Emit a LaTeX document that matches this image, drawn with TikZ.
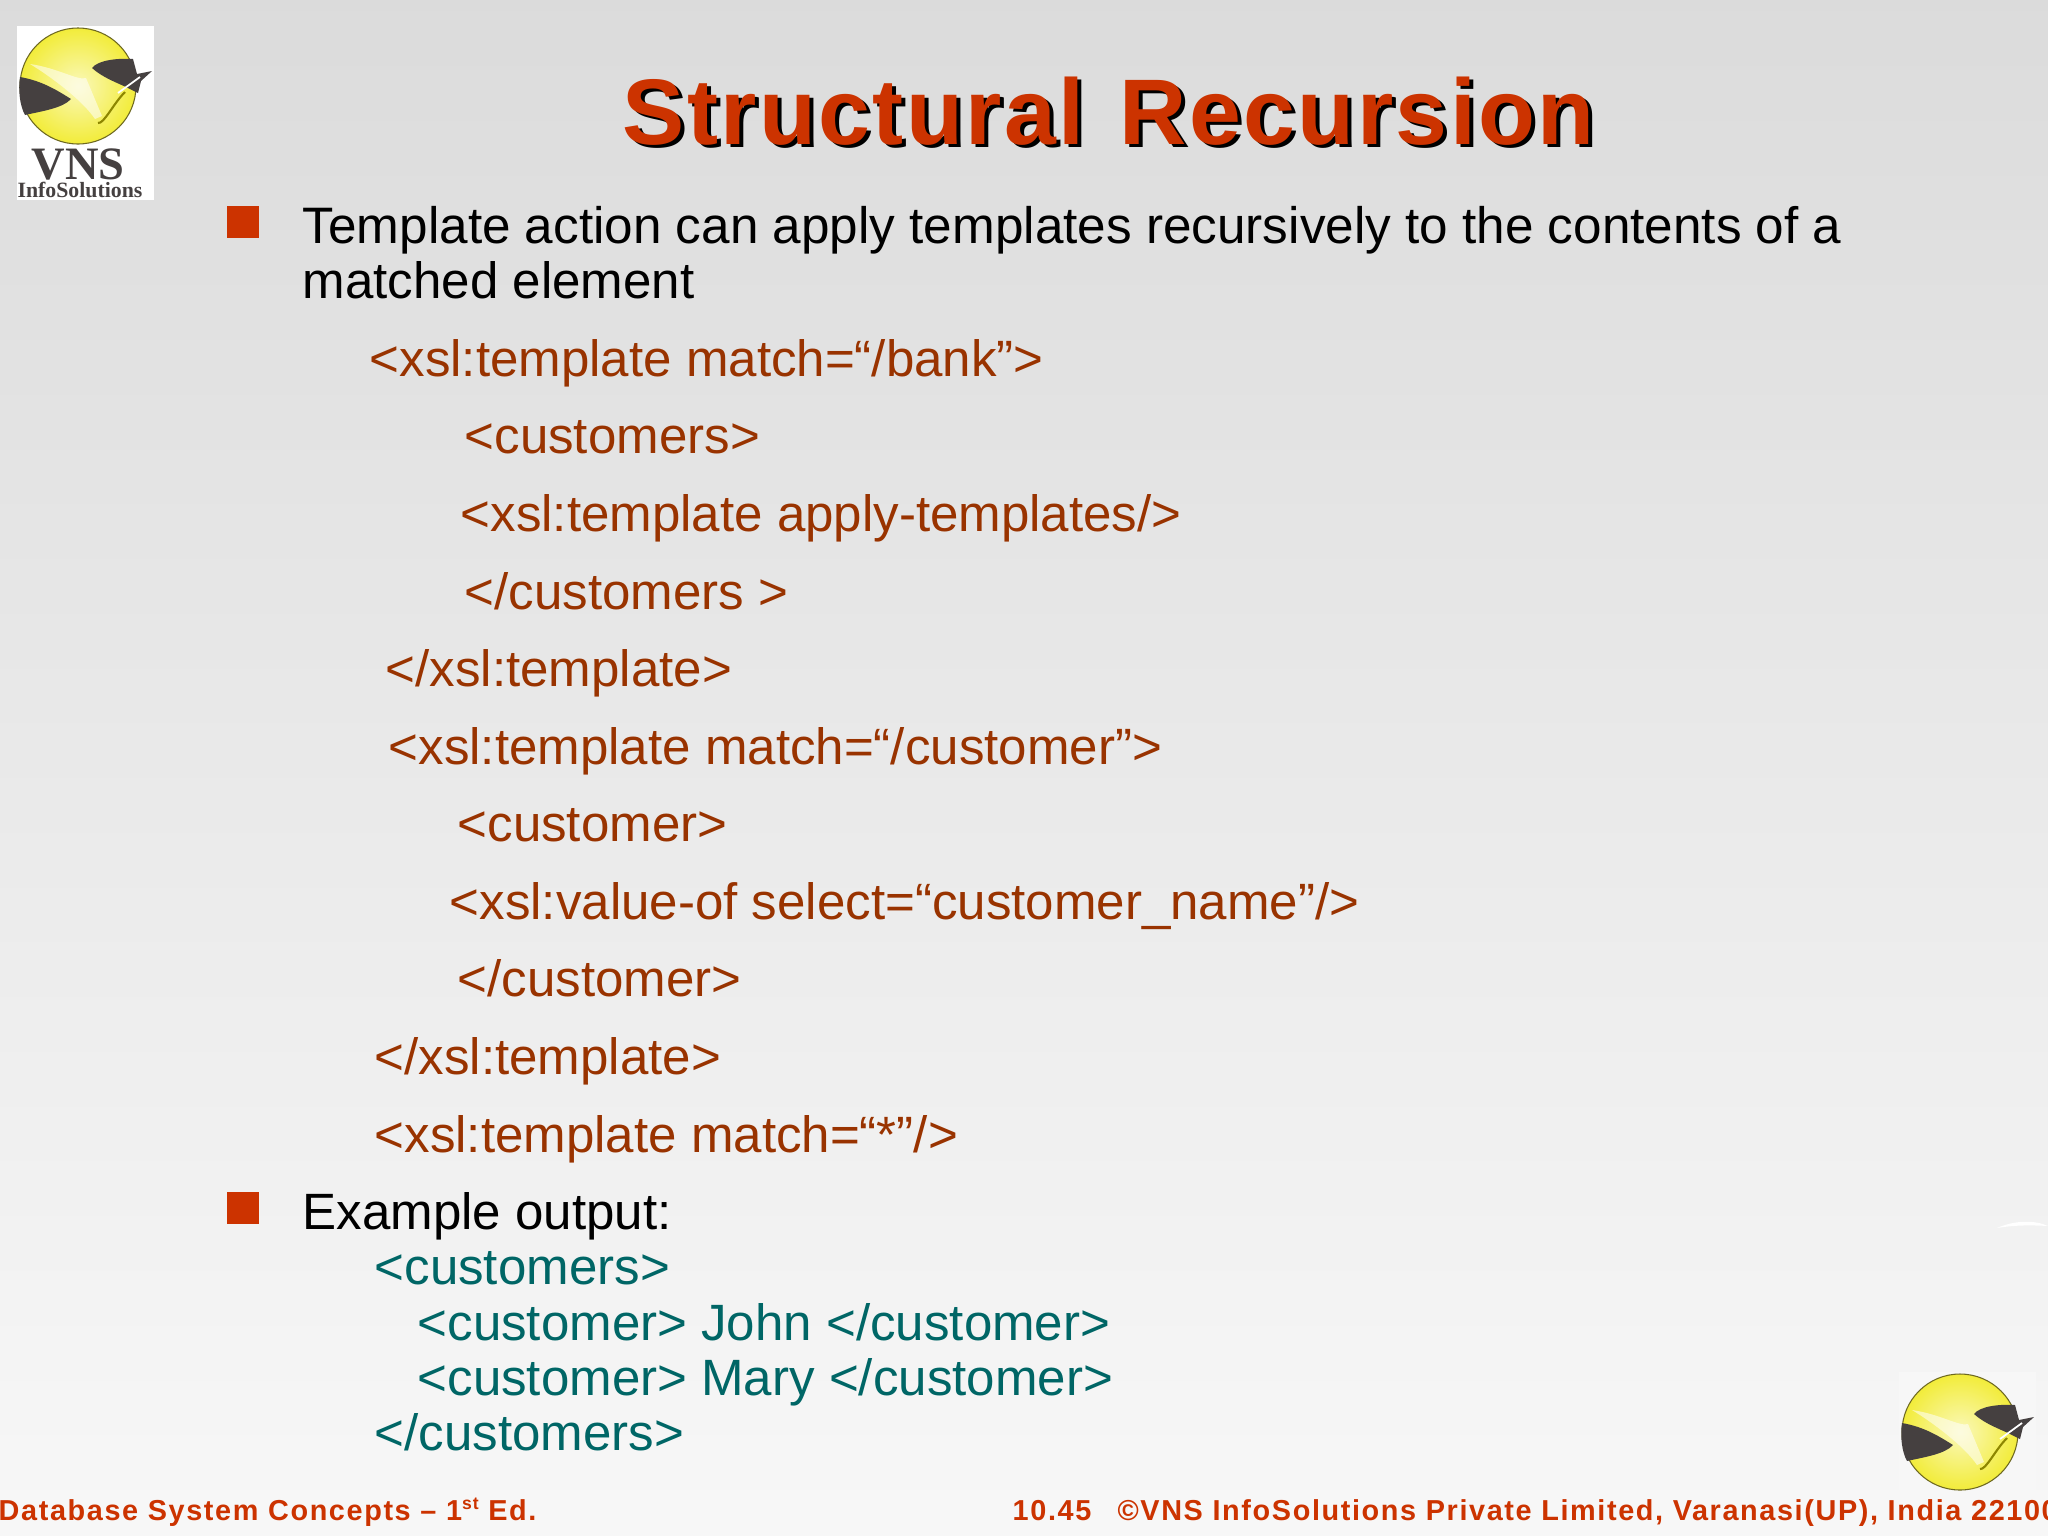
\documentclass[tikz,border=0pt]{standalone}
\usepackage{fontspec}
\setmainfont{Liberation Sans}
\newfontfamily\titlefont[LetterSpace=2.6]{Liberation Sans Bold}
\newfontfamily\footfont[LetterSpace=5.6]{Liberation Sans Bold}
\newfontfamily\logofont{Liberation Serif Bold}
\definecolor{redbrown}{HTML}{CC3300}
\definecolor{codebrown}{HTML}{993300}
\definecolor{outteal}{HTML}{006666}
\definecolor{logodark}{HTML}{454040}
\definecolor{logoyellow}{HTML}{F2EC3A}
\begin{document}
\begin{tikzpicture}
[x=.01cm,y=-.01cm,
 txt/.style={anchor=base west,inner sep=0pt,font=\fontsize{14.52}{17}\selectfont},
 main/.style={txt,text=black},code/.style={txt,text=codebrown},res/.style={txt,text=outteal},
 bul/.style={fill=redbrown,inner sep=0pt,minimum size=.32cm},
 foot/.style={anchor=base west,inner sep=0pt,text=redbrown,font=\fontsize{8.2}{10}\footfont},
 head/.style={anchor=base west,inner sep=0pt,font=\fontsize{26.5}{30}\titlefont},
 ball/.pic={\shade[inner color=logoyellow!35,outer color=logoyellow,draw=olive!70!black,line width=.3pt](0,0) circle (58);
  \fill[white,opacity=.55](-48,-22)..controls (-20,-18) and (0,-5) .. (8,-8)--(24,30)--(17,33)..controls (5,15) and (-25,-8) .. (-48,-22);
  \fill[logodark](-58,-9)..controls (-35,-5) and (-20,5) .. (-7,13)..controls (-15,22) and (-35,25) .. (-53,29)..controls (-58,20) and (-60,5) .. (-58,-9);
  \fill[logodark](14,-18)..controls (20,-26) and (40,-28) .. (55,-27)--(59,-12)--(74,-15)--(63,-5)--(60,7)--(50,2)..controls (40,-3) and (25,-8) .. (14,-18);
  \draw[white,line width=.5pt](40,7)--(62,-9);\draw[olive,line width=.6pt](20,37)..controls (26,38) and (35,18) .. (47,6);}]
\useasboundingbox(0,0) rectangle (2048,1536);
\shade[top color=black!14,bottom color=black!3](0,0) rectangle (2048,1536);
% logos
\fill[white](17,26) rectangle (154,200);\pic at (78,86){ball};
\node(vns) at (78,179)[anchor=base,inner sep=0pt,text=logodark,font=\fontsize{13.2}{14}\logofont]{VNS};
\node(info) at (80,197)[anchor=base,inner sep=0pt,text=logodark,font=\fontsize{6.2}{7}\logofont]{InfoSolutions};
\fill[white!97!black](1899,1372) rectangle (2036,1494);\pic at (1960,1432){ball};
\fill[white](1997,1228)..controls (2015,1220) and (2035,1220) .. (2048,1226)..controls (2030,1225) and (2015,1225) .. (1997,1228);
% title
\node(shadow) at (626,147)[head,text=black]{Structural\hspace{1.9pt} Recursion};
\node(title) at (622,144)[head,text=redbrown]{Structural\hspace{1.9pt} Recursion};
% text
\node(b1) at (243,222)[bul]{};\node(b2) at (243,1208)[bul]{};
\node(l1) at (302,243)[main,font=\fontsize{14.58}{17}\selectfont]{Template action can apply templates recursively to the contents of a};
\node(l2) at (302,298)[main]{matched element};
\node(c1) at (369,376)[code]{<xsl:template match=“/bank”>};
\node(c2) at (464,453)[code]{<customers>};
\node(c3) at (460,531)[code]{<xsl:template apply-templates/>};
\node(c4) at (464,609)[code]{</customers >};
\node(c5) at (385,686)[code]{</xsl:template>};
\node(c6) at (388,764)[code]{<xsl:template match=“/customer”>};
\node(c7) at (457,841)[code]{<customer>};
\node(c8) at (449,919)[code]{<xsl:value-of select=“customer\_name”/>};
\node(c9) at (457,996)[code]{</customer>};
\node(c10) at (374,1074)[code]{</xsl:template>};
\node(c11) at (374,1152)[code]{<xsl:template match=“*”/>};
\node(l3) at (302,1229)[main]{Example output:};
\node(o1) at (374,1284)[res]{<customers>};
\node(o2) at (417,1340)[res]{<customer> John </customer>};
\node(o3) at (417,1395)[res]{<customer> Mary </customer>};
\node(o4) at (374,1450)[res]{</customers>};
% footer
\node(f1) at (-2,1520)[foot]{Database System Concepts – 1\raisebox{.7ex}{\fontsize{5}{6}\footfont st} Ed.};
\node(f2) at (1012,1520)[foot]{10.45\ \ \hspace{2pt}©VNS InfoSolutions Private Limited, Varanasi(UP), India 22100};
\end{tikzpicture}
\end{document}
